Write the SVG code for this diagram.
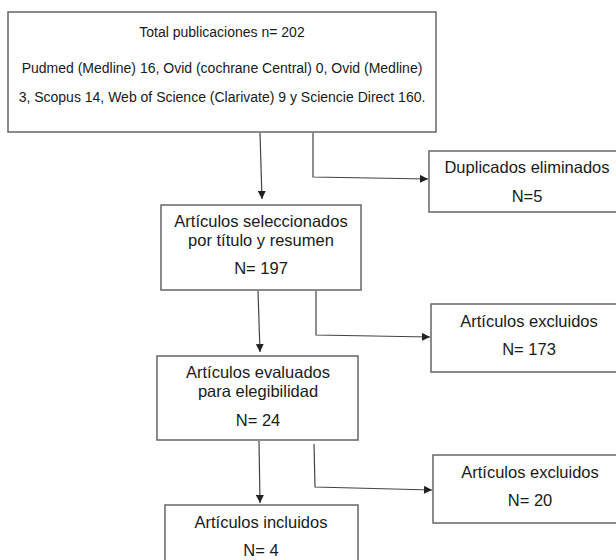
<svg xmlns="http://www.w3.org/2000/svg" width="616" height="560" viewBox="0 0 616 560">
<defs>
<marker id="arr" viewBox="0 0 10 10" refX="10" refY="5" markerWidth="8" markerHeight="8" markerUnits="userSpaceOnUse" orient="auto">
<path d="M0,0 L10,5 L0,10 z" fill="#222"/>
</marker>
<style>
.box{fill:#fff;stroke:#666;stroke-width:1.5}
.t{font-family:"Liberation Sans",Arial,sans-serif;font-size:16.5px;fill:#1a1a1a;text-anchor:middle}
.s{font-size:14px}
.c{fill:none;stroke:#444;stroke-width:1.2}
</style>
</defs>
<rect width="616" height="560" fill="#fff"/>
<g id="n1">
<rect class="box" x="8" y="12" width="428" height="120"/>
<text class="t s" x="222" y="37">Total publicaciones n= 202</text>
<text class="t s" x="222" y="73">Pudmed (Medline) 16, Ovid (cochrane Central) 0, Ovid (Medline)</text>
<text class="t s" x="222" y="102">3, Scopus 14, Web of Science (Clarivate) 9 y Sciencie Direct 160.</text>
</g>
<g id="n2">
<rect class="box" x="429" y="151" width="195" height="61"/>
<text class="t" x="527" y="173">Duplicados eliminados</text>
<text class="t" x="527" y="202">N=5</text>
</g>
<g id="n3">
<rect class="box" x="161" y="205" width="200" height="85"/>
<text class="t" x="261" y="227">Artículos seleccionados</text>
<text class="t" x="261" y="246">por título y resumen</text>
<text class="t" x="261" y="274">N= 197</text>
</g>
<g id="n4">
<rect class="box" x="431" y="304" width="193" height="68"/>
<text class="t" x="529" y="327">Artículos excluidos</text>
<text class="t" x="529" y="355">N= 173</text>
</g>
<g id="n5">
<rect class="box" x="157" y="356" width="201" height="84"/>
<text class="t" x="258" y="378">Artículos evaluados</text>
<text class="t" x="258" y="397">para elegibilidad</text>
<text class="t" x="258" y="426">N= 24</text>
</g>
<g id="n6">
<rect class="box" x="433" y="455" width="191" height="68"/>
<text class="t" x="530" y="478">Artículos excluidos</text>
<text class="t" x="530" y="506">N= 20</text>
</g>
<g id="n7">
<rect class="box" x="165" y="505" width="193" height="70"/>
<text class="t" x="261" y="528">Artículos incluidos</text>
<text class="t" x="261" y="556">N= 4</text>
</g>
<g id="connectors">
<path class="c" d="M260,133 L262,199" marker-end="url(#arr)"/>
<path class="c" d="M313,133 L313,177 L428,179" marker-end="url(#arr)"/>
<path class="c" d="M258,291 L260,352" marker-end="url(#arr)"/>
<path class="c" d="M316,291 L316,335 L430,337" marker-end="url(#arr)"/>
<path class="c" d="M259,441 L260,503" marker-end="url(#arr)"/>
<path class="c" d="M314,444 L315,487 L432,490" marker-end="url(#arr)"/>
</g>
</svg>
